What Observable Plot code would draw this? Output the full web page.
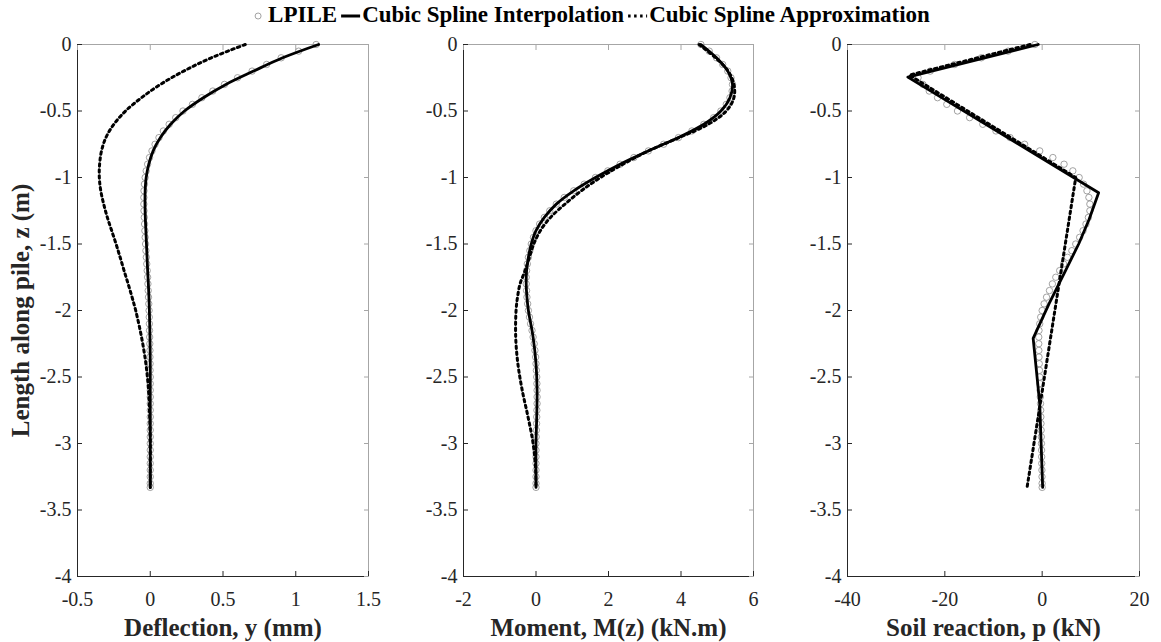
<!DOCTYPE html>
<html><head><meta charset="utf-8">
<script src="https://cdn.jsdelivr.net/npm/d3@7"></script>
<script src="https://cdn.jsdelivr.net/npm/@observablehq/plot@0.6"></script>
<style>
body{margin:0;background:#fff;}
#wrap{position:relative;width:1161px;height:642px;font-family:"Liberation Serif","Times New Roman",serif;overflow:hidden}
#legend{position:absolute;top:2px;left:591px;transform:translateX(-50%);display:flex;align-items:center;font-weight:bold;font-size:23px;color:#000;white-space:nowrap;font-family:"Liberation Serif",serif}
#legend svg{display:block}
.panel{position:absolute;top:34px;}
.panel svg,.panel svg text{font-family:"Liberation Serif","Times New Roman",serif !important;}
.panel g[aria-label="x-axis label"] text,.panel g[aria-label="y-axis label"] text{font-weight:bold;font-size:25px;fill:#262626}
</style></head>
<body><div id="wrap">
<div id="legend">
<svg width="14" height="20"><circle cx="6" cy="11" r="3" fill="none" stroke="#8c8c8c" stroke-width="0.8"/></svg>
<span style="margin-left:2px">LPILE</span>
<svg width="22" height="20" style="margin-left:3px"><line x1="1" y1="11" x2="20" y2="11" stroke="#000" stroke-width="3"/></svg>
<span>Cubic Spline Interpolation</span>
<svg width="22" height="20" style="margin-left:3px"><line x1="1" y1="11" x2="20" y2="11" stroke="#000" stroke-width="3" stroke-dasharray="2.5,3.5"/></svg>
<span>Cubic Spline Approximation</span>
</div>
</div>
<script>
// ---------- data ----------
const depthTicks = [-4, -3.5, -3, -2.5, -2, -1.5, -1, -0.5, 0];
const deflectionTicks = [-0.5, 0, 0.5, 1, 1.5];
const momentTicks = [-2, 0, 2, 4, 6];
const reactionTicks = [-40, -20, 0, 20];

// LPILE output nodes (m)
const depthLpile = [0,-0.05,-0.1,-0.15,-0.2,-0.25,-0.3,-0.35,-0.4,-0.45,-0.5,-0.55,-0.6,-0.65,-0.7,-0.75,-0.8,-0.85,-0.9,-0.95,-1,-1.05,-1.1,-1.15,-1.2,-1.25,-1.3,-1.35,-1.4,-1.45,-1.5,-1.55,-1.6,-1.65,-1.7,-1.75,-1.8,-1.85,-1.9,-1.95,-2,-2.05,-2.1,-2.15,-2.2,-2.25,-2.3,-2.35,-2.4,-2.45,-2.5,-2.55,-2.6,-2.65,-2.7,-2.75,-2.8,-2.85,-2.9,-2.95,-3,-3.05,-3.1,-3.15,-3.2,-3.25,-3.3,-3.33];
const lpileDeflection = [1.14,1.02,0.9,0.8,0.7,0.6,0.51,0.43,0.355,0.29,0.225,0.175,0.13,0.09,0.06,0.033,0.012,-0.005,-0.018,-0.028,-0.035,-0.04,-0.043,-0.044,-0.044,-0.043,-0.041,-0.039,-0.037,-0.035,-0.032,-0.03,-0.027,-0.024,-0.021,-0.018,-0.016,-0.014,-0.012,-0.01,-0.008,-0.007,-0.006,-0.005,-0.004,-0.003,-0.002,-0.002,-0.001,-0.001,0,0,0,0,0,0,0,0,0,0,0,0,0,0,0,0,0,0];
const lpileMoment = [4.55,4.78,4.98,5.15,5.29,5.38,5.42,5.41,5.35,5.25,5.1,4.9,4.63,4.3,3.93,3.52,3.1,2.7,2.32,1.98,1.64,1.33,1.04,0.78,0.56,0.38,0.23,0.1,0,-0.07,-0.13,-0.17,-0.21,-0.24,-0.26,-0.27,-0.27,-0.26,-0.25,-0.23,-0.21,-0.18,-0.15,-0.11,-0.08,-0.05,-0.03,-0.01,0,0.01,0.02,0.025,0.03,0.03,0.03,0.025,0.02,0.015,0.01,0.005,0,0,0,0,0,0,0,0];
const lpileReaction = [-1.5,-7,-12.5,-18,-23,-25.5,-24.5,-23.2,-21.5,-19.6,-17.4,-14.9,-12.2,-9.5,-6.6,-3.6,-0.5,2.2,4.5,6.3,7.6,8.5,9.2,9.6,9.8,9.8,9.5,9,8.4,7.7,6.9,6.1,5.2,4.4,3.6,2.8,2.1,1.5,0.9,0.4,0,-0.3,-0.5,-0.65,-0.7,-0.7,-0.68,-0.65,-0.6,-0.55,-0.5,-0.46,-0.42,-0.38,-0.34,-0.3,-0.27,-0.24,-0.21,-0.18,-0.15,-0.12,-0.1,-0.08,-0.05,-0.03,-0.01,0];

// spline knots (m)
const depthSpline = [0,-0.1,-0.2,-0.3,-0.4,-0.5,-0.6,-0.7,-0.8,-0.9,-1,-1.1,-1.2,-1.3,-1.4,-1.5,-1.6,-1.7,-1.8,-1.9,-2,-2.2,-2.4,-2.6,-2.8,-3,-3.2,-3.33];
const interpDeflection = [1.157,0.91,0.71,0.52,0.365,0.235,0.14,0.07,0.02,-0.01,-0.028,-0.035,-0.036,-0.034,-0.03,-0.026,-0.022,-0.018,-0.013,-0.009,-0.006,-0.002,0,0,0,0,0,0];
const approxDeflection = [0.653,0.42,0.23,0.07,-0.06,-0.17,-0.25,-0.305,-0.335,-0.348,-0.35,-0.34,-0.32,-0.295,-0.265,-0.235,-0.207,-0.18,-0.152,-0.125,-0.1,-0.06,-0.03,-0.012,-0.004,0,0,0];
const interpMoment = [4.55,4.98,5.29,5.42,5.35,5.1,4.63,3.93,3.1,2.32,1.64,1.04,0.56,0.23,0,-0.13,-0.21,-0.26,-0.27,-0.25,-0.21,-0.08,0,0.03,0.02,0,0,0];
const approxMoment = [4.5,4.95,5.3,5.46,5.46,5.25,4.75,3.95,3.1,2.4,1.78,1.25,0.8,0.4,0.12,-0.06,-0.18,-0.3,-0.44,-0.51,-0.55,-0.56,-0.5,-0.38,-0.22,-0.08,-0.01,0];
const depthInterpReaction = [0,-0.245,-1.115,-1.32,-1.5,-1.7,-1.95,-2.21,-2.7,-3.33];
const interpReaction = [-0.8,-27.6,11.6,9.6,7.5,4.8,1.4,-1.85,-0.5,0.1];
const depthApproxReaction = [0,-0.23,-1.0,-3.33];
const approxReaction = [-2.5,-27.3,6.9,-3.1];

// ---------- drawing ----------
const rows = (xs, ys) => xs.map((v, i) => ({x: v, z: ys[i]}));
const FH = 532;

function panel({left, marginLeft, fw, xDomain, xTicks, xLabel, yLabel, lp, interp, approx, curve}) {
  const per = fw + FH;
  const chart = Plot.plot({
    width: marginLeft + fw + 15,
    height: 10 + FH + 66,
    marginTop: 10, marginBottom: 66, marginLeft, marginRight: 15,
    style: {fontFamily: "'Liberation Serif', 'Times New Roman', serif", fontSize: "20px", color: "#262626", background: "transparent", overflow: "visible"},
    x: {domain: xDomain},
    y: {domain: [-4, 0]},
    marks: [
      Plot.frame({stroke: "#a6a6a6", strokeWidth: 1}),
      Plot.frame({stroke: "#262626", strokeWidth: 1, strokeDasharray: `0,${per},${per}`}),
      Plot.axisX(xTicks, {anchor: "top", tickSize: -5, stroke: "#a6a6a6", tickFormat: () => "", label: null}),
      Plot.axisY(depthTicks, {anchor: "right", tickSize: -5, stroke: "#a6a6a6", tickFormat: () => "", label: null}),
      Plot.axisX(xTicks, {anchor: "bottom", tickSize: -5, tickPadding: 20, tickFormat: d => String(d),
        label: xLabel, labelAnchor: "center", labelArrow: "none", labelOffset: 59}),
      Plot.axisY(depthTicks, {anchor: "left", tickSize: -5, tickPadding: 11, tickFormat: d => String(d),
        label: yLabel, labelAnchor: "center", labelArrow: "none", labelOffset: 66}),
      Plot.dot(lp, {x: "x", y: "z", r: 3.2, stroke: "#8c8c8c", strokeWidth: 0.8, fill: "none"}),
      Plot.line(interp, {x: "x", y: "z", stroke: "#000", strokeWidth: 2.8, curve}),
      Plot.line(approx, {x: "x", y: "z", stroke: "#000", strokeWidth: 3, strokeDasharray: "2.5,3.5", curve})
    ]
  });
  const div = document.createElement("div");
  div.className = "panel";
  div.style.left = left + "px";
  div.appendChild(chart);
  document.getElementById("wrap").appendChild(div);
}

panel({left: 0, marginLeft: 77, fw: 291, xDomain: [-0.5, 1.5], xTicks: deflectionTicks,
  xLabel: "Deflection, y (mm)", yLabel: "Length along pile, z (m)",
  lp: rows(lpileDeflection, depthLpile), interp: rows(interpDeflection, depthSpline),
  approx: rows(approxDeflection, depthSpline), curve: "catmull-rom"});
panel({left: 390, marginLeft: 73, fw: 290, xDomain: [-2, 6], xTicks: momentTicks,
  xLabel: "Moment, M(z) (kN.m)", yLabel: null,
  lp: rows(lpileMoment, depthLpile), interp: rows(interpMoment, depthSpline),
  approx: rows(approxMoment, depthSpline), curve: "catmull-rom"});
panel({left: 775, marginLeft: 72, fw: 292, xDomain: [-40, 20], xTicks: reactionTicks,
  xLabel: "Soil reaction, p (kN)", yLabel: null,
  lp: rows(lpileReaction, depthLpile), interp: rows(interpReaction, depthInterpReaction),
  approx: rows(approxReaction, depthApproxReaction), curve: "linear"});
</script>
</body></html>
